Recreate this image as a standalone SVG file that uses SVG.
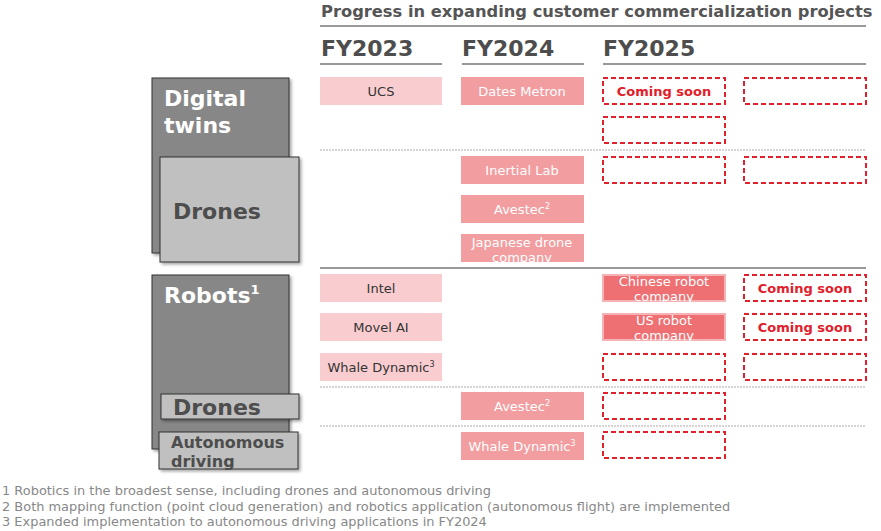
<svg xmlns="http://www.w3.org/2000/svg" width="881" height="531" viewBox="0 0 881 531">
<defs>
<filter id="sh" x="-10%" y="-10%" width="130%" height="130%"><feDropShadow dx="2" dy="2" stdDeviation="1.5" flood-color="#000" flood-opacity="0.35"/></filter>
<style>
text{font-family:"DejaVu Sans","Liberation Sans",sans-serif}
.ttl{font-size:16.3px;font-weight:bold;fill:#555}
.fy{font-size:22px;font-weight:bold;fill:#4d4d4d}
.hl{stroke:#777;stroke-width:1.5}
.sep{stroke:#aaa;stroke-width:1;stroke-dasharray:2,1}
.light{fill:#f9cdd0}
.mid{fill:#f29da0}
.dark{fill:#ee7073;stroke:#f6b3b5;stroke-width:2}
.dash{fill:#fff;stroke:#e0202a;stroke-width:2;stroke-dasharray:5,3}
.t{font-size:13px;text-anchor:middle}
.td{fill:#333}
.tw{fill:#fff}
.cs{font-size:13px;font-weight:bold;fill:#e0202a;text-anchor:middle}
.big{fill:#878787;stroke:#333;stroke-width:1;filter:url(#sh)}
.sm{fill:#c0c0c0;stroke:#333;stroke-width:1;filter:url(#sh)}
.cw{font-size:22px;font-weight:bold;fill:#fff}
.cg{font-size:22px;font-weight:bold;fill:#4d4d4d}
.fn{font-size:12.95px;fill:#888}
</style>
</defs>
<g id="header">
<text class="ttl" x="321" y="17">Progress in expanding customer commercialization projects</text>
<line class="hl" x1="320" y1="26" x2="866" y2="26"/>
<text class="fy" x="321" y="56">FY2023</text>
<text class="fy" x="462" y="56">FY2024</text>
<text class="fy" x="603" y="56">FY2025</text>
<line class="hl" x1="320" y1="64" x2="442" y2="64"/>
<line class="hl" x1="462" y1="64" x2="584" y2="64"/>
<line class="hl" x1="603" y1="64" x2="866" y2="64"/>
</g>
<g id="separators">
<line class="sep" x1="320" y1="150" x2="866" y2="150"/>
<line class="hl" x1="320" y1="268" x2="866" y2="268"/>
<line class="sep" x1="320" y1="387" x2="866" y2="387"/>
<line class="sep" x1="320" y1="426" x2="866" y2="426"/>
</g>
<g id="cat-digital-twins">
<rect class="big" x="152" y="78" width="137" height="175"/>
<text class="cw" x="164" y="106">Digital</text>
<text class="cw" x="164" y="133">twins</text>
</g>
<g id="cat-dt-drones">
<rect class="sm" x="160" y="157" width="139" height="105"/>
<text class="cg" x="173" y="219">Drones</text>
</g>
<g id="cat-robots">
<rect class="big" x="152" y="275" width="137" height="174"/>
<text class="cw" x="164" y="303">Robots<tspan font-size="13" dy="-9">1</tspan></text>
</g>
<g id="cat-r-drones">
<rect class="sm" x="161" y="394" width="138" height="25"/>
<text class="cg" x="173" y="415">Drones</text>
</g>
<g id="cat-autonomous">
<rect class="sm" x="159" y="432" width="139" height="37"/>
<text x="171" y="448" font-size="16" font-weight="bold" fill="#4d4d4d">Autonomous</text>
<text x="171" y="467" font-size="16" font-weight="bold" fill="#4d4d4d">driving</text>
</g>
<g id="ucs"><rect class="light" x="320" y="77" width="122" height="28"/><text class="t td" x="381" y="96">UCS</text></g>
<g id="dates-metron"><rect class="mid" x="461" y="77" width="123" height="28"/><text class="t tw" x="522" y="96">Dates Metron</text></g>
<g id="cs1"><rect class="dash" x="603" y="78" width="122" height="26"/><text class="cs" x="664" y="96">Coming soon</text></g>
<g id="e1"><rect class="dash" x="744" y="78" width="122" height="26"/></g>
<g id="e2"><rect class="dash" x="603" y="117" width="122" height="26"/></g>
<g id="inertial-lab"><rect class="mid" x="461" y="156" width="123" height="28"/><text class="t tw" x="522" y="175">Inertial Lab</text></g>
<g id="e3"><rect class="dash" x="603" y="157" width="122" height="26"/></g>
<g id="e4"><rect class="dash" x="744" y="157" width="122" height="26"/></g>
<g id="avestec1"><rect class="mid" x="461" y="195" width="123" height="28"/><text class="t tw" x="522" y="214">Avestec<tspan font-size="8" dy="-5">2</tspan></text></g>
<g id="japanese-drone"><rect class="mid" x="461" y="234" width="123" height="28"/><text class="t tw" x="522" y="247">Japanese drone</text><text class="t tw" x="522" y="262">company</text></g>
<g id="intel"><rect class="light" x="320" y="274" width="122" height="28"/><text class="t td" x="381" y="293">Intel</text></g>
<g id="chinese-robot"><rect class="dark" x="603" y="275" width="122" height="26"/><text class="t tw" x="664" y="286">Chinese robot</text><text class="t tw" x="664" y="301">company</text></g>
<g id="cs2"><rect class="dash" x="744" y="275" width="122" height="26"/><text class="cs" x="805" y="293">Coming soon</text></g>
<g id="movel-ai"><rect class="light" x="320" y="313" width="122" height="28"/><text class="t td" x="381" y="332">Movel AI</text></g>
<g id="us-robot"><rect class="dark" x="603" y="314" width="122" height="26"/><text class="t tw" x="664" y="325">US robot</text><text class="t tw" x="664" y="340">company</text></g>
<g id="cs3"><rect class="dash" x="744" y="314" width="122" height="26"/><text class="cs" x="805" y="332">Coming soon</text></g>
<g id="whale1"><rect class="light" x="320" y="353" width="122" height="28"/><text class="t td" x="381" y="372">Whale Dynamic<tspan font-size="8" dy="-5">3</tspan></text></g>
<g id="e5"><rect class="dash" x="603" y="354" width="122" height="26"/></g>
<g id="e6"><rect class="dash" x="744" y="354" width="122" height="26"/></g>
<g id="avestec2"><rect class="mid" x="461" y="392" width="123" height="28"/><text class="t tw" x="522" y="411">Avestec<tspan font-size="8" dy="-5">2</tspan></text></g>
<g id="e7"><rect class="dash" x="603" y="393" width="122" height="26"/></g>
<g id="whale2"><rect class="mid" x="461" y="432" width="123" height="28"/><text class="t tw" x="522" y="451">Whale Dynamic<tspan font-size="8" dy="-5">3</tspan></text></g>
<g id="e8"><rect class="dash" x="603" y="432" width="122" height="26"/></g>
<g id="footnotes">
<text class="fn" x="2" y="495">1 Robotics in the broadest sense, including drones and autonomous driving</text>
<text class="fn" x="2" y="511">2 Both mapping function (point cloud generation) and robotics application (autonomous flight) are implemented</text>
<text class="fn" x="2" y="526">3 Expanded implementation to autonomous driving applications in FY2024</text>
</g>
</svg>
